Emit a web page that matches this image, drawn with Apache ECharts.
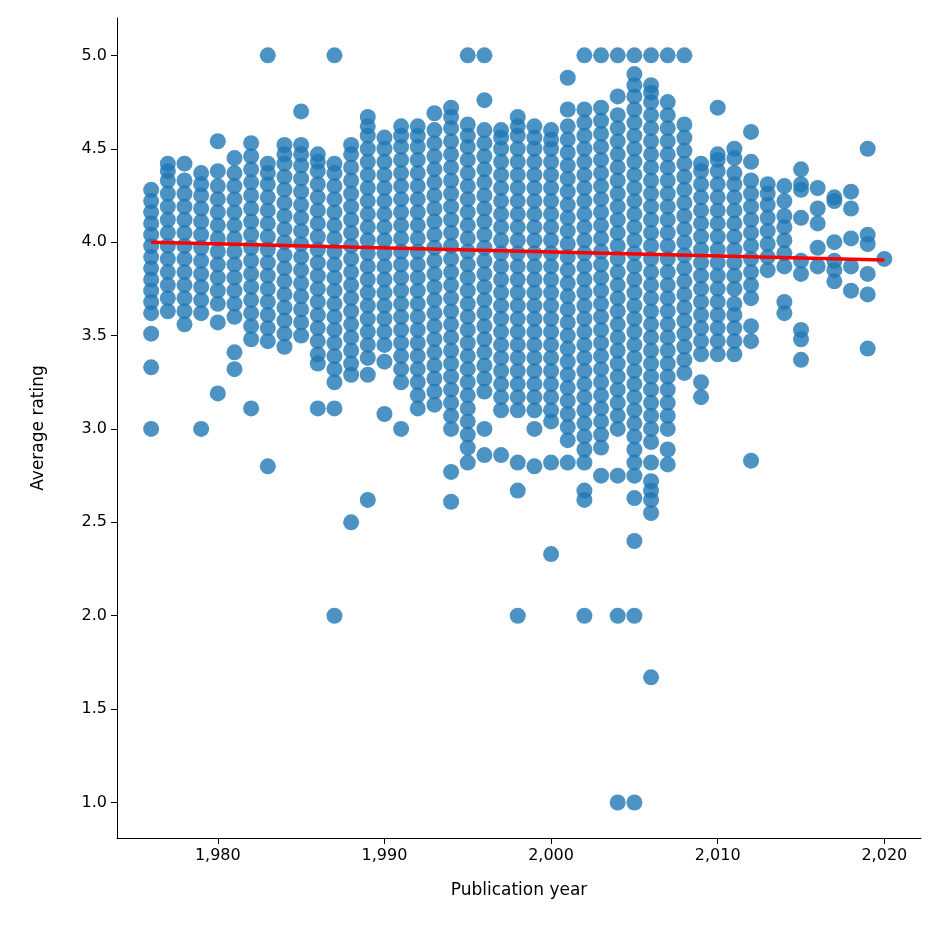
<!DOCTYPE html>
<html lang="en" style="height: 100%">
<head>
  <meta charset="utf-8" />
</head>
<body style="height: 100%; margin: 0; background: #fff">
  <div id="container" style="width: 940px; height: 940px"></div>
  <script src="https://cdn.jsdelivr.net/npm/echarts@6/dist/echarts.min.js"></script>
  <script>
    // ratings, grouped by decade: [year, [ratings]]
    var books1970s = [
      [1976, [3.0, 3.33, 3.51, 3.62, 3.68, 3.74, 3.8, 3.86, 3.92, 3.98, 4.04, 4.1, 4.16, 4.22, 4.28]],
      [1977, [3.63, 3.7, 3.77, 3.84, 3.91, 3.98, 4.05, 4.12, 4.19, 4.26, 4.33, 4.38, 4.42]],
      [1978, [3.56, 3.63, 3.7, 3.77, 3.84, 3.91, 3.98, 4.05, 4.12, 4.19, 4.26, 4.33, 4.42]],
      [1979, [3.0, 3.62, 3.69, 3.76, 3.83, 3.9, 3.97, 4.04, 4.11, 4.18, 4.25, 4.31, 4.37]]
    ];
    var books1980s = [
      [1980, [3.19, 3.57, 3.67, 3.74, 3.81, 3.88, 3.95, 4.02, 4.09, 4.16, 4.23, 4.3, 4.38, 4.54]],
      [1981, [3.32, 3.41, 3.6, 3.67, 3.74, 3.81, 3.88, 3.95, 4.02, 4.09, 4.16, 4.23, 4.3, 4.37, 4.45]],
      [1982, [3.11, 3.48, 3.55, 3.62, 3.69, 3.76, 3.83, 3.9, 3.97, 4.04, 4.11, 4.18, 4.25, 4.32, 4.39, 4.46, 4.53]],
      [1983, [2.8, 3.47, 3.54, 3.61, 3.68, 3.75, 3.82, 3.89, 3.96, 4.03, 4.1, 4.17, 4.24, 4.31, 4.37, 4.42, 5.0]],
      [1984, [3.44, 3.51, 3.58, 3.65, 3.72, 3.79, 3.86, 3.93, 4.0, 4.07, 4.14, 4.21, 4.28, 4.35, 4.42, 4.47, 4.52]],
      [1985, [3.5, 3.57, 3.64, 3.71, 3.78, 3.85, 3.92, 3.99, 4.06, 4.13, 4.2, 4.27, 4.34, 4.41, 4.47, 4.52, 4.7]],
      [1986, [3.11, 3.35, 3.4, 3.47, 3.54, 3.61, 3.68, 3.75, 3.82, 3.89, 3.96, 4.03, 4.1, 4.17, 4.24, 4.31, 4.38, 4.43, 4.47]],
      [1987, [2.0, 3.11, 3.25, 3.32, 3.39, 3.46, 3.53, 3.6, 3.67, 3.74, 3.81, 3.88, 3.95, 4.02, 4.09, 4.16, 4.23, 4.3, 4.37, 4.42, 5.0]],
      [1988, [2.5, 3.29, 3.35, 3.42, 3.49, 3.56, 3.63, 3.7, 3.77, 3.84, 3.91, 3.98, 4.05, 4.12, 4.19, 4.26, 4.33, 4.4, 4.47, 4.52]],
      [1989, [2.62, 3.29, 3.38, 3.45, 3.52, 3.59, 3.66, 3.73, 3.8, 3.87, 3.94, 4.01, 4.08, 4.15, 4.22, 4.29, 4.36, 4.43, 4.5, 4.57, 4.62, 4.67]]
    ];
    var books1990s = [
      [1990, [3.08, 3.36, 3.45, 3.52, 3.59, 3.66, 3.73, 3.8, 3.87, 3.94, 4.01, 4.08, 4.15, 4.22, 4.29, 4.36, 4.43, 4.5, 4.56]],
      [1991, [3.0, 3.25, 3.32, 3.39, 3.46, 3.53, 3.6, 3.67, 3.74, 3.81, 3.88, 3.95, 4.02, 4.09, 4.16, 4.23, 4.3, 4.37, 4.44, 4.51, 4.57, 4.62]],
      [1992, [3.11, 3.18, 3.25, 3.32, 3.39, 3.46, 3.53, 3.6, 3.67, 3.74, 3.81, 3.88, 3.95, 4.02, 4.09, 4.16, 4.23, 4.3, 4.37, 4.44, 4.51, 4.57, 4.62]],
      [1993, [3.13, 3.2, 3.27, 3.34, 3.41, 3.48, 3.55, 3.62, 3.69, 3.76, 3.83, 3.9, 3.97, 4.04, 4.11, 4.18, 4.25, 4.32, 4.39, 4.46, 4.53, 4.6, 4.69]],
      [1994, [2.61, 2.77, 3.0, 3.07, 3.14, 3.21, 3.28, 3.35, 3.42, 3.49, 3.56, 3.63, 3.7, 3.77, 3.84, 3.91, 3.98, 4.05, 4.12, 4.19, 4.26, 4.33, 4.4, 4.47, 4.54, 4.61, 4.67, 4.72]],
      [1995, [2.82, 2.9, 2.97, 3.04, 3.11, 3.18, 3.25, 3.32, 3.39, 3.46, 3.53, 3.6, 3.67, 3.74, 3.81, 3.88, 3.95, 4.02, 4.09, 4.16, 4.23, 4.3, 4.37, 4.44, 4.51, 4.57, 4.63, 5.0]],
      [1996, [2.86, 3.0, 3.2, 3.27, 3.34, 3.41, 3.48, 3.55, 3.62, 3.69, 3.76, 3.83, 3.9, 3.97, 4.04, 4.11, 4.18, 4.25, 4.32, 4.39, 4.46, 4.53, 4.6, 4.76, 5.0]],
      [1997, [2.86, 3.1, 3.17, 3.24, 3.31, 3.38, 3.45, 3.52, 3.59, 3.66, 3.73, 3.8, 3.87, 3.94, 4.01, 4.08, 4.15, 4.22, 4.29, 4.36, 4.43, 4.5, 4.56, 4.6]],
      [1998, [2.0, 2.67, 2.82, 3.1, 3.17, 3.24, 3.31, 3.38, 3.45, 3.52, 3.59, 3.66, 3.73, 3.8, 3.87, 3.94, 4.01, 4.08, 4.15, 4.22, 4.29, 4.36, 4.43, 4.5, 4.57, 4.62, 4.67]],
      [1999, [2.8, 3.0, 3.1, 3.17, 3.24, 3.31, 3.38, 3.45, 3.52, 3.59, 3.66, 3.73, 3.8, 3.87, 3.94, 4.01, 4.08, 4.15, 4.22, 4.29, 4.36, 4.43, 4.5, 4.56, 4.62]]
    ];
    var books2000s = [
      [2000, [2.33, 2.82, 3.04, 3.1, 3.17, 3.24, 3.31, 3.38, 3.45, 3.52, 3.59, 3.66, 3.73, 3.8, 3.87, 3.94, 4.01, 4.08, 4.15, 4.22, 4.29, 4.36, 4.43, 4.5, 4.55, 4.6]],
      [2001, [2.82, 2.94, 3.01, 3.08, 3.15, 3.22, 3.29, 3.36, 3.43, 3.5, 3.57, 3.64, 3.71, 3.78, 3.85, 3.92, 3.99, 4.06, 4.13, 4.2, 4.27, 4.34, 4.41, 4.48, 4.55, 4.62, 4.71, 4.88]],
      [2002, [2.0, 2.62, 2.67, 2.82, 2.89, 2.96, 3.03, 3.1, 3.17, 3.24, 3.31, 3.38, 3.45, 3.52, 3.59, 3.66, 3.73, 3.8, 3.87, 3.94, 4.01, 4.08, 4.15, 4.22, 4.29, 4.36, 4.43, 4.5, 4.57, 4.64, 4.71, 5.0]],
      [2003, [2.75, 2.9, 2.97, 3.04, 3.11, 3.18, 3.25, 3.32, 3.39, 3.46, 3.53, 3.6, 3.67, 3.74, 3.81, 3.88, 3.95, 4.02, 4.09, 4.16, 4.23, 4.3, 4.37, 4.44, 4.51, 4.58, 4.65, 4.72, 5.0]],
      [2004, [1.0, 2.0, 2.75, 3.0, 3.07, 3.14, 3.21, 3.28, 3.35, 3.42, 3.49, 3.56, 3.63, 3.7, 3.77, 3.84, 3.91, 3.98, 4.05, 4.12, 4.19, 4.26, 4.33, 4.4, 4.47, 4.54, 4.61, 4.68, 4.78, 5.0]],
      [2005, [1.0, 2.0, 2.4, 2.63, 2.75, 2.82, 2.89, 2.96, 3.03, 3.1, 3.17, 3.24, 3.31, 3.38, 3.45, 3.52, 3.59, 3.66, 3.73, 3.8, 3.87, 3.94, 4.01, 4.08, 4.15, 4.22, 4.29, 4.36, 4.43, 4.5, 4.57, 4.64, 4.71, 4.78, 4.84, 4.9, 5.0]],
      [2006, [1.67, 2.55, 2.62, 2.67, 2.72, 2.82, 2.93, 3.0, 3.07, 3.14, 3.21, 3.28, 3.35, 3.42, 3.49, 3.56, 3.63, 3.7, 3.77, 3.84, 3.91, 3.98, 4.05, 4.12, 4.19, 4.26, 4.33, 4.4, 4.47, 4.54, 4.61, 4.68, 4.75, 4.8, 4.84, 5.0]],
      [2007, [2.81, 2.89, 3.0, 3.07, 3.14, 3.21, 3.28, 3.35, 3.42, 3.49, 3.56, 3.63, 3.7, 3.77, 3.84, 3.91, 3.98, 4.05, 4.12, 4.19, 4.26, 4.33, 4.4, 4.47, 4.54, 4.61, 4.68, 4.75, 5.0]],
      [2008, [3.3, 3.37, 3.44, 3.51, 3.58, 3.65, 3.72, 3.79, 3.86, 3.93, 4.0, 4.07, 4.14, 4.21, 4.28, 4.35, 4.42, 4.49, 4.56, 4.63, 5.0]],
      [2009, [3.17, 3.25, 3.4, 3.47, 3.54, 3.61, 3.68, 3.75, 3.82, 3.89, 3.96, 4.03, 4.1, 4.17, 4.24, 4.31, 4.38, 4.42]]
    ];
    var books2010s = [
      [2010, [3.4, 3.47, 3.54, 3.61, 3.68, 3.75, 3.82, 3.89, 3.96, 4.03, 4.1, 4.17, 4.24, 4.31, 4.38, 4.44, 4.47, 4.72]],
      [2011, [3.4, 3.47, 3.54, 3.61, 3.67, 3.75, 3.82, 3.89, 3.96, 4.03, 4.1, 4.17, 4.24, 4.31, 4.37, 4.45, 4.5]],
      [2012, [2.83, 3.47, 3.55, 3.7, 3.77, 3.84, 3.91, 3.98, 4.05, 4.12, 4.19, 4.26, 4.33, 4.43, 4.59]],
      [2013, [3.85, 3.92, 3.99, 4.06, 4.13, 4.2, 4.26, 4.31]],
      [2014, [3.62, 3.68, 3.87, 3.94, 4.01, 4.08, 4.14, 4.22, 4.3]],
      [2015, [3.37, 3.48, 3.53, 3.83, 3.9, 4.13, 4.28, 4.31, 4.39]],
      [2016, [3.87, 3.97, 4.1, 4.18, 4.29]],
      [2017, [3.79, 3.85, 3.9, 4.0, 4.22, 4.24]],
      [2018, [3.74, 3.87, 4.02, 4.18, 4.27]],
      [2019, [3.43, 3.72, 3.83, 3.99, 4.04, 4.5]],
      [2020, [3.91]]
    ];
    var fitYears = [1976, 2020];
    var fitRatings = [4.0, 3.905];
    var xTicks = [1980, 1990, 2000, 2010, 2020];
    var yTicks = [1.0, 1.5, 2.0, 2.5, 3.0, 3.5, 4.0, 4.5, 5.0];

    var points = [];
    [books1970s, books1980s, books1990s, books2000s, books2010s].forEach(function (group) {
      group.forEach(function (row) {
        row[1].forEach(function (r) { points.push([row[0], r]); });
      });
    });

    var myChart = echarts.init(document.getElementById("container"), null, { renderer: "canvas" });
    var axisText = { color: "#000", fontSize: 16, fontFamily: "DejaVu Sans" };
    var nameText = { color: "#000", fontSize: 17, fontFamily: "DejaVu Sans" };

    var option = {
      animation: false,
      grid: { left: 117, right: 19, top: 18, bottom: 102 },
      xAxis: {
        type: "value",
        min: 1973.95,
        max: 2022.2,
        name: "Publication year",
        nameLocation: "middle",
        nameGap: 44,
        nameTextStyle: nameText,
        axisLine: { onZero: false, lineStyle: { color: "#000", width: 1 } },
        axisTick: { show: true, length: 6, customValues: xTicks, lineStyle: { color: "#000" } },
        axisLabel: Object.assign({ margin: 10, customValues: xTicks }, axisText),
        splitLine: { show: false }
      },
      yAxis: {
        type: "value",
        min: 0.81,
        max: 5.2,
        name: "Average rating",
        nameLocation: "middle",
        nameGap: 70,
        nameTextStyle: nameText,
        axisLine: { show: true, onZero: false, lineStyle: { color: "#000", width: 1 } },
        axisTick: { show: true, length: 6, customValues: yTicks, lineStyle: { color: "#000" } },
        axisLabel: Object.assign({
          margin: 10,
          customValues: yTicks,
          formatter: function (v) { return v.toFixed(1); }
        }, axisText),
        splitLine: { show: false }
      },
      series: [
        {
          type: "scatter",
          data: points,
          symbolSize: 16,
          itemStyle: { color: "#1f77b4", opacity: 0.8 }
        },
        {
          type: "line",
          data: fitYears.map(function (y, i) { return [y, fitRatings[i]]; }),
          symbol: "none",
          lineStyle: { color: "#ff0000", width: 3.5 },
          z: 5
        }
      ]
    };
    myChart.setOption(option);
  </script>
</body>
</html>
